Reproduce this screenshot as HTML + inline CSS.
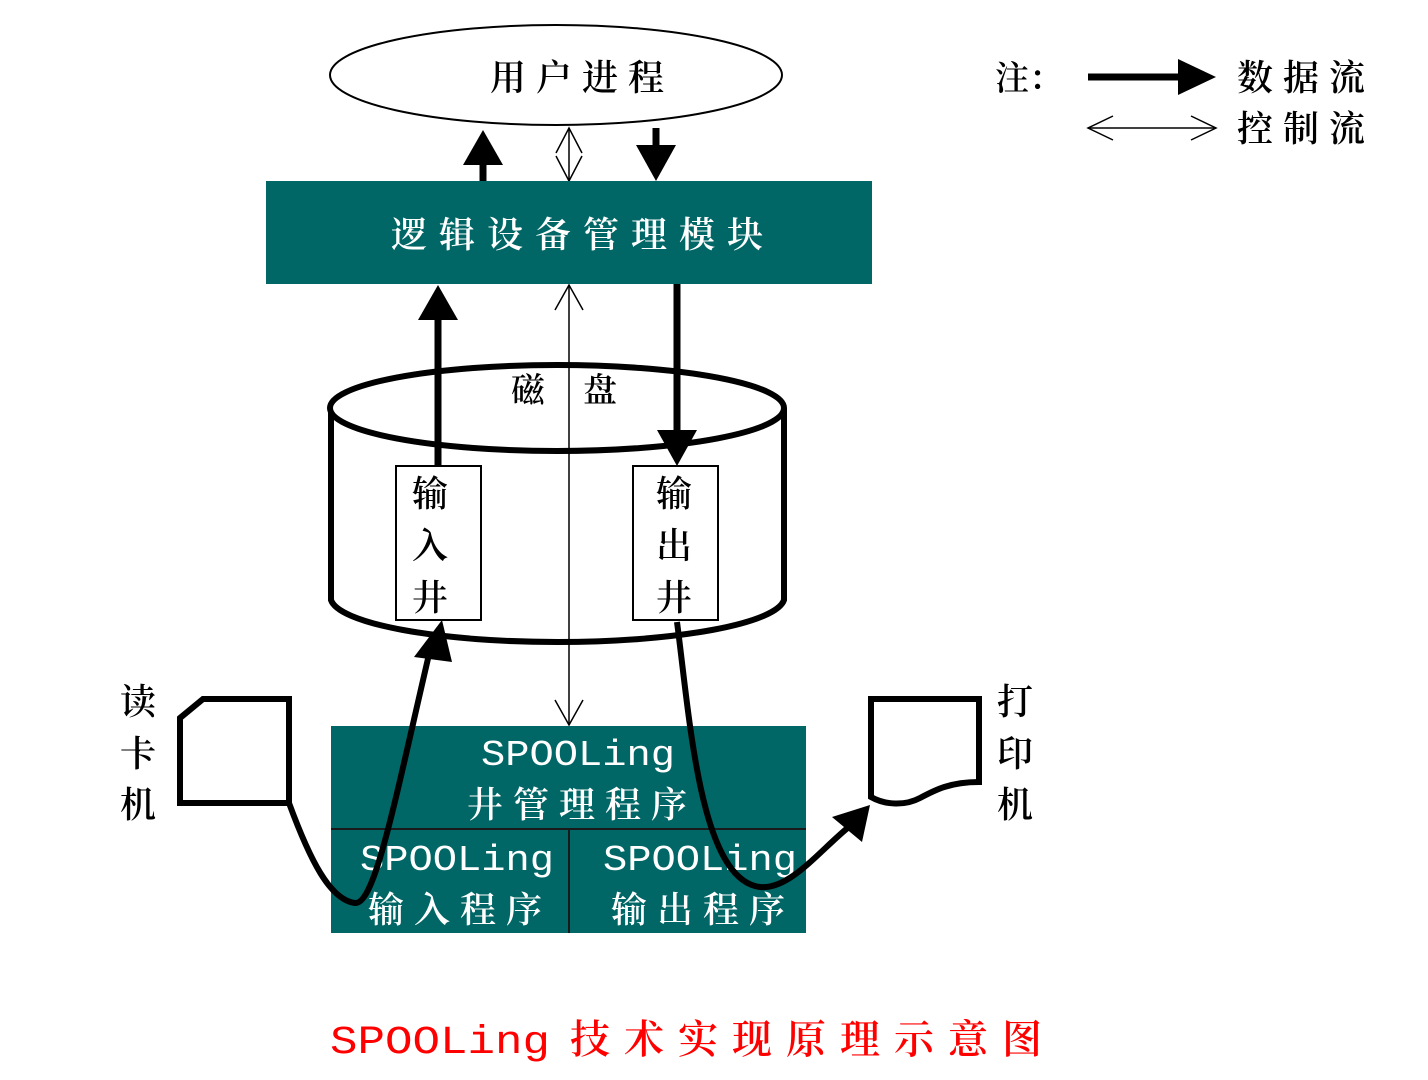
<!DOCTYPE html>
<html><head><meta charset="utf-8"><style>
html,body{margin:0;padding:0;background:#fff;}
svg{display:block}
.c{font-family:"Liberation Serif","Noto Serif CJK SC",serif;font-weight:600;}
.k{font-family:"Noto Serif CJK SC",serif;font-weight:600;}
.m{font-family:"Liberation Mono","Noto Serif CJK SC",monospace;}
</style></head><body>
<svg width="1428" height="1080" viewBox="0 0 1428 1080" xmlns="http://www.w3.org/2000/svg">
<!-- ellipse -->
<ellipse cx="556" cy="75" rx="226" ry="50" fill="#fff" stroke="#000" stroke-width="2"/>
<text x="582" y="90" class="c" font-size="36" text-anchor="middle" letter-spacing="10">用户进程</text>
<!-- top arrows -->
<line x1="483" y1="181" x2="483" y2="160" stroke="#000" stroke-width="7"/>
<polygon points="463,165 503,165 483,130" fill="#000"/>
<line x1="656" y1="128" x2="656" y2="150" stroke="#000" stroke-width="7"/>
<polygon points="636,145 676,145 656,181" fill="#000"/>
<line x1="569" y1="128" x2="569" y2="181" stroke="#000" stroke-width="1.5"/>
<path d="M556,153 L569,128 L582,153 M556,156 L569,181 L582,156" fill="none" stroke="#000" stroke-width="1.5"/>
<!-- logical box -->
<rect x="266" y="181" width="606" height="103" fill="#006666"/>
<text x="583" y="247" class="c" font-size="36" fill="#fff" text-anchor="middle" letter-spacing="12">逻辑设备管理模块</text>
<!-- disk -->
<path d="M331,408 L331,600 A227,45 0 0 0 784,600 L784,408" fill="#fff" stroke="#000" stroke-width="6"/>
<ellipse cx="557" cy="408" rx="227" ry="43" fill="#fff" stroke="#000" stroke-width="6"/>
<text x="528" y="402" class="c" font-size="34" text-anchor="middle">磁</text>
<text x="600" y="402" class="c" font-size="34" text-anchor="middle">盘</text>
<!-- vertical control line -->
<line x1="569" y1="285" x2="569" y2="725" stroke="#000" stroke-width="1.5"/>
<path d="M555,310 L569,285 L583,310 M555,700 L569,725 L583,700" fill="none" stroke="#000" stroke-width="1.5"/>
<!-- wells -->
<rect x="396" y="466" width="85" height="154" fill="#fff" stroke="#000" stroke-width="2"/>
<rect x="633" y="466" width="85" height="154" fill="#fff" stroke="#000" stroke-width="2"/>
<text class="c" font-size="36" text-anchor="middle"><tspan x="430" y="506">输</tspan><tspan x="430" y="558">入</tspan><tspan x="430" y="610">井</tspan></text>
<text class="c" font-size="36" text-anchor="middle"><tspan x="674" y="506">输</tspan><tspan x="674" y="558">出</tspan><tspan x="674" y="610">井</tspan></text>
<!-- thick arrows -->
<line x1="438" y1="466" x2="438" y2="315" stroke="#000" stroke-width="7"/>
<polygon points="418,320 458,320 438,285" fill="#000"/>
<line x1="677" y1="284" x2="677" y2="435" stroke="#000" stroke-width="7"/>
<polygon points="657,430 697,430 677,466" fill="#000"/>
<!-- lower box -->
<rect x="331" y="726" width="475" height="207" fill="#006666"/>
<line x1="331" y1="829" x2="806" y2="829" stroke="#1a1a1a" stroke-width="2"/>
<line x1="569" y1="829" x2="569" y2="933" stroke="#1a1a1a" stroke-width="2"/>
<text x="578" y="765" class="m" font-size="36" fill="#fff" text-anchor="middle" textLength="194" lengthAdjust="spacingAndGlyphs">SPOOLing</text>
<text x="582" y="817" class="c" font-size="36" fill="#fff" text-anchor="middle" letter-spacing="10">井管理程序</text>
<text x="457" y="870" class="m" font-size="36" fill="#fff" text-anchor="middle" textLength="194" lengthAdjust="spacingAndGlyphs">SPOOLing</text>
<text x="460" y="922" class="c" font-size="36" fill="#fff" text-anchor="middle" letter-spacing="10">输入程序</text>
<text x="700" y="870" class="m" font-size="36" fill="#fff" text-anchor="middle" textLength="194" lengthAdjust="spacingAndGlyphs">SPOOLing</text>
<text x="703" y="922" class="c" font-size="36" fill="#fff" text-anchor="middle" letter-spacing="10">输出程序</text>
<!-- card reader -->
<polygon points="180,718 203,699 289,699 289,803 180,803" fill="#fff" stroke="#000" stroke-width="6"/>
<text class="c" font-size="36" text-anchor="middle"><tspan x="138" y="714">读</tspan><tspan x="138" y="766">卡</tspan><tspan x="138" y="817">机</tspan></text>
<path d="M289,803 C310,860 330,900 355,903 C375,905 395,800 430,650" fill="none" stroke="#000" stroke-width="6"/>
<polygon points="414,657 452,662 442,620" fill="#000"/>
<!-- printer -->
<path d="M871,699 L979,699 L979,782 C950,782 935,790 920,798 C905,806 885,805 871,797 Z" fill="#fff" stroke="#000" stroke-width="6"/>
<text class="c" font-size="36" text-anchor="middle"><tspan x="1015" y="714">打</tspan><tspan x="1015" y="766">印</tspan><tspan x="1015" y="817">机</tspan></text>
<path d="M677,622 C690,720 700,880 760,887 C790,890 820,850 850,826" fill="none" stroke="#000" stroke-width="6"/>
<polygon points="832,817 862,842 870,805" fill="#000"/>
<!-- legend -->
<text x="995" y="90" class="k" font-size="34">注：</text>
<line x1="1088" y1="77" x2="1182" y2="77" stroke="#000" stroke-width="7"/>
<polygon points="1178,59 1178,95 1216,77" fill="#000"/>
<text x="1237" y="90" class="c" font-size="36" letter-spacing="10">数据流</text>
<line x1="1088" y1="128" x2="1216" y2="128" stroke="#000" stroke-width="1.5"/>
<path d="M1113,116 L1088,128 L1113,140 M1191,116 L1216,128 L1191,140" fill="none" stroke="#000" stroke-width="1.5"/>
<text x="1237" y="141" class="c" font-size="36" letter-spacing="10">控制流</text>
<!-- caption -->
<text x="330" y="1053" font-size="40" fill="#f00"><tspan class="m" textLength="220" lengthAdjust="spacingAndGlyphs">SPOOLing</tspan><tspan class="c" dx="20" letter-spacing="14">技术实现原理示意图</tspan></text>
</svg>
</body></html>
